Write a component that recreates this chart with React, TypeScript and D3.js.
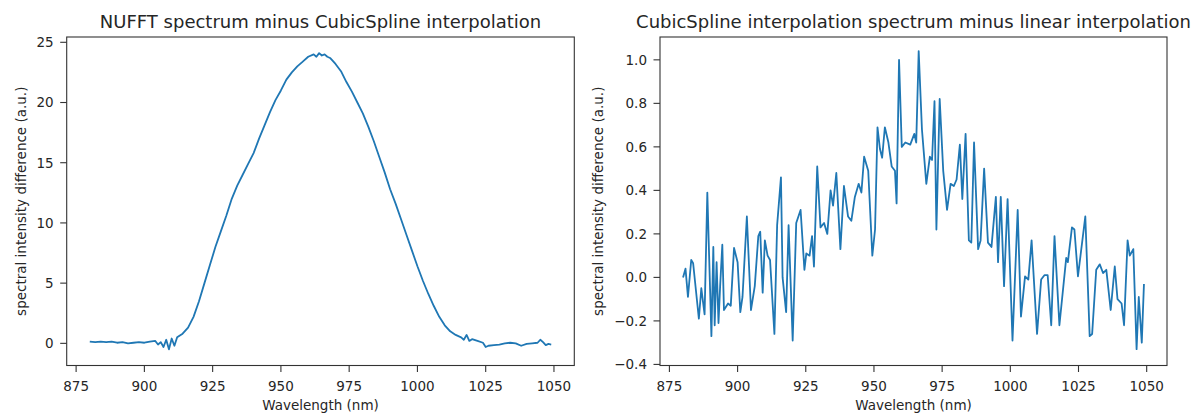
import React from "react";
import * as d3 from "d3";

// ---------- data ----------
const nufftX = [
  880, 882, 884, 886, 888, 890, 892, 894, 896, 898, 900, 902, 904, 905, 906, 907, 908, 909, 910, 911,
  912, 914, 916, 918, 920, 922, 924, 926, 928, 930, 932, 934, 936, 938, 940, 942, 944, 946, 948, 950,
  952, 954, 956, 958, 960, 962, 963, 964, 965, 966, 967, 968, 970, 972, 974, 976, 978, 980, 982, 984,
  986, 988, 990, 992, 994, 996, 998, 1000, 1002, 1004, 1006, 1008, 1010, 1012, 1014, 1016, 1017, 1018,
  1019, 1020, 1022, 1024, 1025, 1026, 1028, 1030, 1032, 1034, 1036, 1038, 1040, 1042, 1044, 1045, 1046,
  1047, 1048, 1049,
];
const nufftY = [
  0.15, 0.1, 0.15, 0.1, 0.15, 0.05, 0.1, 0.0, 0.05, 0.1, 0.05, 0.15, 0.2, -0.1, 0.1, -0.3, 0.3, -0.5, 0.4, -0.2,
  0.5, 0.8, 1.3, 2.2, 3.5, 5.0, 6.5, 8.0, 9.3, 10.6, 12.0, 13.1, 14.0, 14.9, 15.8, 17.0, 18.1, 19.2, 20.2, 21.0,
  21.9, 22.5, 23.0, 23.4, 23.8, 24.0, 23.8, 24.1, 23.9, 24.0, 23.8, 23.7, 23.2, 22.6, 21.7, 20.9, 20.0, 19.1, 18.0, 16.8,
  15.5, 14.2, 12.8, 11.6, 10.3, 9.0, 7.7, 6.4, 5.2, 4.1, 3.1, 2.2, 1.5, 1.0, 0.7, 0.5, 0.3, 0.7,
  0.2, 0.35, 0.2, 0.05, -0.3, -0.2, -0.15, -0.1, 0.0, 0.05, 0.0, -0.2, -0.05, 0.0, 0.05, 0.3, 0.1,
  -0.15, -0.05, -0.1,
];

const splineX = [
  880.0, 880.9, 881.8, 883.0, 883.7, 885.8, 886.7, 887.9, 888.9, 890.4, 891.1, 891.6, 892.3, 893.0, 893.6,
  894.4, 895.0, 896.5, 897.5, 898.7, 900.0, 901.0, 901.8, 903.4, 904.9, 906.3, 907.6, 908.3, 909.2, 910.0,
  911.0, 911.9, 913.5, 914.5, 915.9, 916.5, 917.8, 918.7, 920.2, 921.5, 923.1, 924.5, 925.2, 926.4, 927.3,
  928.0, 929.2, 930.4, 931.7, 932.9, 934.1, 935.0, 936.2, 937.7, 939.0, 940.5, 941.7, 943.0, 944.4, 945.4,
  946.4, 947.9, 949.4, 950.4, 951.3, 952.2, 953.0, 954.0, 955.3, 956.5, 957.7, 958.3, 959.2, 960.2, 961.5,
  963.3, 964.8, 965.5, 966.4, 967.6, 969.2, 970.5, 971.3, 972.2, 972.9, 974.1, 975.4, 976.8, 978.1, 979.3,
  980.3, 981.5, 982.4, 983.6, 984.8, 985.7, 986.7, 988.2, 989.1, 990.4, 991.8, 993.1, 994.7, 995.5, 996.5,
  997.7, 999.0, 1000.8, 1002.7, 1003.9, 1005.4, 1006.6, 1007.8, 1009.8, 1011.3, 1012.5, 1013.7, 1015.0, 1016.2,
  1018.0, 1020.5, 1021.1, 1022.6, 1023.5, 1024.8, 1027.5, 1029.1, 1030.0, 1031.5, 1032.8, 1034.0, 1035.2,
  1036.8, 1038.3, 1039.3, 1040.8, 1041.7, 1043.0, 1043.8, 1045.1, 1046.3, 1047.1, 1048.2, 1049.0,
];
const splineY = [
  0.0, 0.04, -0.09, 0.08, 0.065, -0.19, -0.05, -0.17, 0.39, -0.27, 0.14, -0.22, 0.07, -0.21, -0.04,
  0.15, -0.15, -0.12, -0.13, 0.135, 0.07, -0.16, -0.09, 0.28, -0.15, -0.04, 0.19, 0.21, -0.07, 0.17,
  0.1, 0.08, -0.26, 0.24, 0.46, 0.0, -0.16, 0.24, -0.29, 0.25, 0.31, 0.035, 0.11, 0.1, 0.19,
  0.05, 0.51, 0.23, 0.25, 0.2, 0.4, 0.33, 0.48, 0.13, 0.42, 0.28, 0.26, 0.37, 0.43, 0.39,
  0.555, 0.49, 0.1, 0.22, 0.69, 0.59, 0.55, 0.69, 0.62, 0.51, 0.49, 0.34, 1.0, 0.6, 0.62,
  0.61, 0.66, 0.62, 1.04, 0.68, 0.43, 0.555, 0.54, 0.81, 0.22, 0.82, 0.49, 0.31, 0.43, 0.42,
  0.45, 0.61, 0.36, 0.66, 0.17, 0.16, 0.62, 0.13, 0.17, 0.5, 0.16, 0.14, 0.37, 0.07, 0.37,
  -0.04, 0.36, -0.29, 0.31, -0.18, 0.005, -0.01, 0.17, -0.26, -0.01, 0.01, 0.01, -0.22, 0.19,
  -0.22, 0.09, 0.07, 0.23, 0.22, 0.005, 0.28, -0.27, -0.26, 0.035, 0.06, 0.02, 0.035,
  -0.15, 0.05, -0.1, -0.12, -0.22, 0.17, 0.1, 0.13, -0.33, -0.09, -0.3, -0.03,
];

const xTicks = [875, 900, 925, 950, 975, 1000, 1025, 1050];
const leftYTicks = [0, 5, 10, 15, 20, 25];
const rightYTicks = [-0.4, -0.2, 0.0, 0.2, 0.4, 0.6, 0.8, 1.0];

const leftTitle = "NUFFT spectrum minus CubicSpline interpolation";
const rightTitle = "CubicSpline interpolation spectrum minus linear interpolation";
const xLabel = "Wavelength (nm)";
const yLabel = "spectral intensity difference (a.u.)";

// ---------- layout ----------
const W = 1202;
const H = 414;
const TOP = 37;
const BOTTOM = 365.5;
const FONT = "'DejaVu Sans', sans-serif";
const TEXT = "#262626";
const SPINE = "#333";
const LINE = "#1f77b4";
const TICK_LEN = 6.5;
const TICK_PAD = 6.5;

type PanelProps = {
  x0: number;
  x1: number;
  yDomain: [number, number];
  yTicks: number[];
  yFmt: (v: number) => string;
  xs: number[];
  ys: number[];
  title: string;
  yLabelX: number;
};

function Panel({ x0, x1, yDomain, yTicks, yFmt, xs, ys, title, yLabelX }: PanelProps) {
  const x = d3.scaleLinear().domain([871.55, 1057.45]).range([x0, x1]);
  const y = d3.scaleLinear().domain(yDomain).range([BOTTOM, TOP]);
  const pts = xs.map((v, i) => [v, ys[i]] as [number, number]);
  const path = d3
    .line<[number, number]>()
    .x((d) => x(d[0]))
    .y((d) => y(d[1]))(pts) as string;
  const cx = (x0 + x1) / 2;
  const cy = (TOP + BOTTOM) / 2;
  return (
    <g>
      <path d={path} fill="none" stroke={LINE} strokeWidth={1.8} strokeLinejoin="round" />
      <rect x={x0} y={TOP} width={x1 - x0} height={BOTTOM - TOP} fill="none" stroke={SPINE} strokeWidth={1.1} />
      {xTicks.map((t) => (
        <g key={"x" + t}>
          <line x1={x(t)} x2={x(t)} y1={BOTTOM} y2={BOTTOM + TICK_LEN} stroke={SPINE} strokeWidth={1.1} />
          <text x={x(t)} y={BOTTOM + TICK_LEN + TICK_PAD + 12.6} textAnchor="middle" fontFamily={FONT} fontSize={13.5} fill={TEXT}>
            {t}
          </text>
        </g>
      ))}
      {yTicks.map((t) => (
        <g key={"y" + t}>
          <line x1={x0 - TICK_LEN} x2={x0} y1={y(t)} y2={y(t)} stroke={SPINE} strokeWidth={1.1} />
          <text x={x0 - TICK_LEN - TICK_PAD} y={y(t) + 4.9} textAnchor="end" fontFamily={FONT} fontSize={13.5} fill={TEXT}>
            {yFmt(t)}
          </text>
        </g>
      ))}
      <text x={cx} y={28.3} textAnchor="middle" fontFamily={FONT} fontSize={18} fill={TEXT}>
        {title}
      </text>
      <text x={cx} y={410} textAnchor="middle" fontFamily={FONT} fontSize={13.5} fill={TEXT}>
        {xLabel}
      </text>
      <text
        transform={`translate(${yLabelX},${cy}) rotate(-90)`}
        textAnchor="middle"
        fontFamily={FONT}
        fontSize={13.5}
        fill={TEXT}
      >
        {yLabel}
      </text>
    </g>
  );
}

export default function App() {
  const fmtInt = (v: number) => d3.format("d")(v);
  const fmtDec = (v: number) => d3.format(".1f")(v).replace("-", "\u2212");
  return (
    <svg width={W} height={H} style={{ position: "absolute", left: 0, top: 0, background: "#fff" }}>
      <rect x={0} y={0} width={W} height={H} fill="#fff" />
      <Panel
        x0={66.7}
        x1={574.3}
        yDomain={[-1.84, 25.44]}
        yTicks={leftYTicks}
        yFmt={fmtInt}
        xs={nufftX}
        ys={nufftY}
        title={leftTitle}
        yLabelX={25.5}
      />
      <Panel
        x0={660}
        x1={1167}
        yDomain={[-0.405, 1.105]}
        yTicks={rightYTicks}
        yFmt={fmtDec}
        xs={splineX}
        ys={splineY}
        title={rightTitle}
        yLabelX={603}
      />
    </svg>
  );
}
